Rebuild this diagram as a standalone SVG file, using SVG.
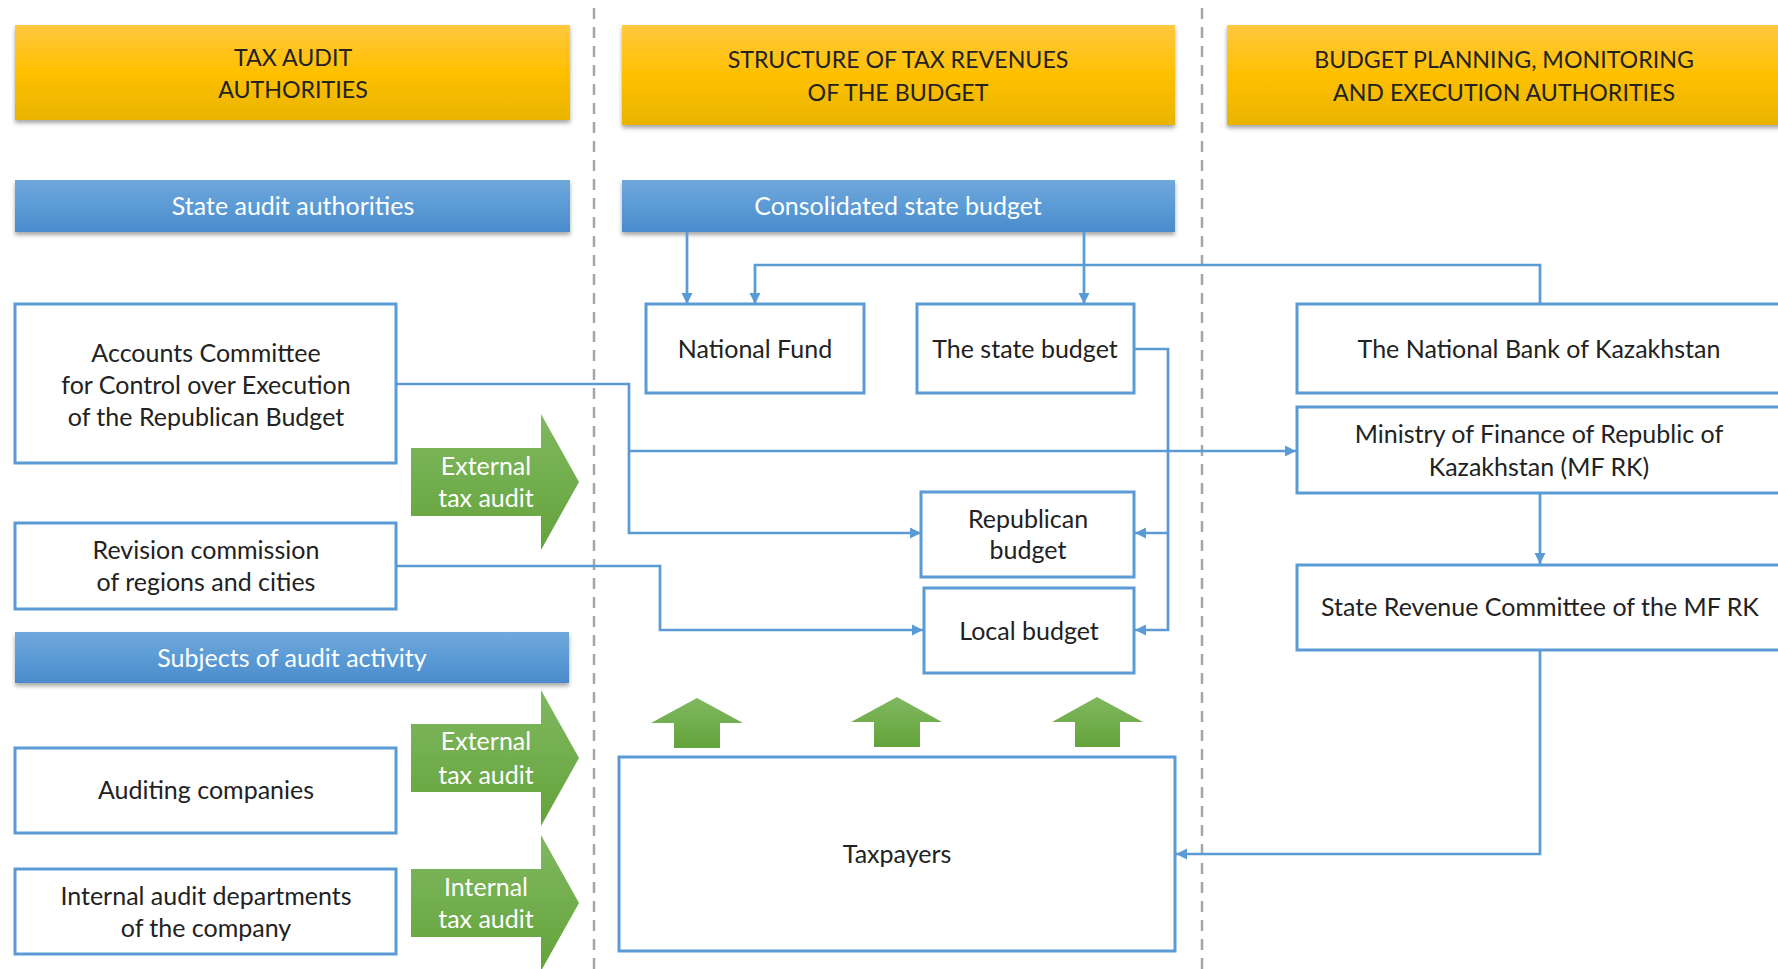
<svg xmlns="http://www.w3.org/2000/svg" width="1778" height="969" viewBox="0 0 1778 969">
<defs>
<linearGradient id="gy" x1="0" y1="0" x2="0" y2="1">
<stop offset="0" stop-color="#ffc840"/><stop offset="0.5" stop-color="#ffc000"/><stop offset="1" stop-color="#e8b400"/>
</linearGradient>
<linearGradient id="gb" x1="0" y1="0" x2="0" y2="1">
<stop offset="0" stop-color="#70a8dc"/><stop offset="0.5" stop-color="#5b9bd5"/><stop offset="1" stop-color="#4a8bcc"/>
</linearGradient>
<linearGradient id="gg" x1="0" y1="0" x2="0" y2="1">
<stop offset="0" stop-color="#80b860"/><stop offset="1" stop-color="#64a33b"/>
</linearGradient>
<filter id="sh" x="-5%" y="-20%" width="110%" height="160%">
<feDropShadow dx="0" dy="3" stdDeviation="2" flood-color="#000" flood-opacity="0.35"/>
</filter>
<marker id="ah" markerWidth="12" markerHeight="12" refX="11" refY="6" orient="auto" markerUnits="userSpaceOnUse">
<path d="M0,0.5 L11,6 L0,11.5 z" fill="#5b9bd5"/>
</marker>
<style>
text{font-family:Lato,"Liberation Sans",sans-serif;font-size:25px;fill:#222;text-anchor:middle}
.h{font-size:23.2px}
.w{fill:#fff}
.yb{fill:url(#gy);filter:url(#sh)}
.bb{fill:url(#gb);filter:url(#sh)}
.bx{fill:#fff;stroke:#5b9bd5;stroke-width:3}
.ga{fill:url(#gg)}
.dash{stroke:#a6a6a6;stroke-width:2.5;stroke-dasharray:11 8;fill:none}
.cn{fill:none;stroke:#5b9bd5;stroke-width:2.7}
</style>
</defs>
<rect width="1778" height="969" fill="#fff"/>
<g id="dividers">
<line class="dash" x1="594" y1="8" x2="594" y2="969"/>
<line class="dash" x1="1202" y1="8" x2="1202" y2="969"/>
</g>
<g id="hdr-tax-audit"><rect class="yb" x="15" y="25" width="555" height="95"/><text class="h" x="293" y="66">TAX AUDIT</text><text class="h" x="293" y="98">AUTHORITIES</text></g>
<g id="hdr-structure"><rect class="yb" x="622" y="25" width="553" height="100"/><text class="h" x="898" y="68">STRUCTURE OF TAX REVENUES</text><text class="h" x="898" y="101">OF THE BUDGET</text></g>
<g id="hdr-budget"><rect class="yb" x="1227" y="25" width="570" height="100"/><text class="h" x="1504" y="68">BUDGET PLANNING, MONITORING</text><text class="h" x="1504" y="101">AND EXECUTION AUTHORITIES</text></g>
<g id="state-audit"><rect class="bb" x="15" y="180" width="555" height="52"/><text class="w" x="293" y="215">State audit authorities</text></g>
<g id="consolidated"><rect class="bb" x="622" y="180" width="553" height="52"/><text class="w" x="898" y="215">Consolidated state budget</text></g>
<g id="subjects"><rect class="bb" x="15" y="632" width="554" height="51"/><text class="w" x="292" y="667">Subjects of audit activity</text></g>
<g id="connectors">
<path class="cn" d="M687,232 V304" marker-end="url(#ah)"/>
<path class="cn" d="M1084,232 V304" marker-end="url(#ah)"/>
<path class="cn" d="M1540,304 V265 H755 V304" marker-end="url(#ah)"/>
<path class="cn" d="M396,384 H629 V533 H921" marker-end="url(#ah)"/>
<path class="cn" d="M629,451 H1296" marker-end="url(#ah)"/>
<path class="cn" d="M396,566 H660 V630 H923" marker-end="url(#ah)"/>
<path class="cn" d="M1134,349 H1168 V630 H1135" marker-end="url(#ah)"/>
<path class="cn" d="M1168,533 H1135" marker-end="url(#ah)"/>
<path class="cn" d="M1540,493 V564" marker-end="url(#ah)"/>
<path class="cn" d="M1540,650 V854 H1176" marker-end="url(#ah)"/>
</g>
<g id="accounts"><rect class="bx" x="15" y="304" width="381" height="159"/><text x="206" y="362">Accounts Committee</text><text x="206" y="394">for Control over Execution</text><text x="206" y="426">of the Republican Budget</text></g>
<g id="revision"><rect class="bx" x="15" y="523" width="381" height="86"/><text x="206" y="559">Revision commission</text><text x="206" y="591">of regions and cities</text></g>
<g id="auditing"><rect class="bx" x="15" y="748" width="381" height="85"/><text x="206" y="799">Auditing companies</text></g>
<g id="internal"><rect class="bx" x="15" y="869" width="381" height="85"/><text x="206" y="905">Internal audit departments</text><text x="206" y="937">of the company</text></g>
<g id="ext-audit-1"><path class="ga" d="M411,448 H541 V414 L579,482 L541,550 V516 H411 z"/><text class="w" x="486" y="475">External</text><text class="w" x="486" y="507">tax audit</text></g>
<g id="ext-audit-2"><path class="ga" d="M411,724 H541 V690 L579,758 L541,826 V792 H411 z"/><text class="w" x="486" y="750">External</text><text class="w" x="486" y="784">tax audit</text></g>
<g id="int-audit"><path class="ga" d="M411,869 H541 V835 L579,903 L541,971 V937 H411 z"/><text class="w" x="486" y="896">Internal</text><text class="w" x="486" y="928">tax audit</text></g>
<g id="national-fund"><rect class="bx" x="646" y="304" width="218" height="89"/><text x="755" y="358">National Fund</text></g>
<g id="state-budget"><rect class="bx" x="917" y="304" width="217" height="89"/><text x="1025" y="358">The state budget</text></g>
<g id="republican"><rect class="bx" x="921" y="492" width="213" height="85"/><text x="1028" y="528">Republican</text><text x="1028" y="559">budget</text></g>
<g id="local"><rect class="bx" x="924" y="588" width="210" height="85"/><text x="1029" y="640">Local budget</text></g>
<g id="up-arrows">
<path class="ga" d="M697,698 L743,723 H720 V748 H674 V723 H651 z"/>
<path class="ga" d="M897,697 L942,722 H920 V747 H874 V722 H851 z"/>
<path class="ga" d="M1097,697 L1143,722 H1120 V747 H1075 V722 H1052 z"/>
</g>
<g id="taxpayers"><rect class="bx" x="619" y="757" width="556" height="194"/><text x="897" y="863">Taxpayers</text></g>
<g id="national-bank"><rect class="bx" x="1297" y="304" width="500" height="89"/><text x="1539" y="358">The National Bank of Kazakhstan</text></g>
<g id="ministry"><rect class="bx" x="1297" y="407" width="500" height="86"/><text x="1539" y="443">Ministry of Finance of Republic of</text><text x="1539" y="476">Kazakhstan (MF RK)</text></g>
<g id="src"><rect class="bx" x="1297" y="565" width="500" height="85"/><text x="1540" y="616">State Revenue Committee of the MF RK</text></g>
</svg>
